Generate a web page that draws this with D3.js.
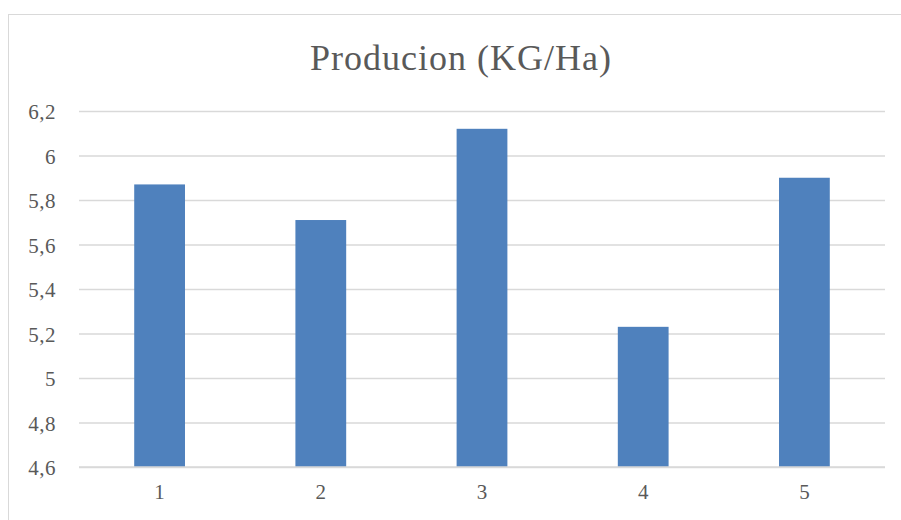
<!DOCTYPE html>
<html>
<head>
<meta charset="utf-8">
<script src="https://cdn.jsdelivr.net/npm/d3@7"></script>
<style>
  html, body { margin: 0; padding: 0; background: #ffffff; }
  svg { display: block; }
</style>
</head>
<body>
<svg id="chart" width="901" height="520"></svg>
<script>
// Production per plot (KG/Ha)
const categories = ["1", "2", "3", "4", "5"];
const values = [5.87, 5.71, 6.12, 5.23, 5.90];
const yTicks = [4.6, 4.8, 5.0, 5.2, 5.4, 5.6, 5.8, 6.0, 6.2];
const titleText = "Producion (KG/Ha)";

const svg = d3.select("#chart");
const plot = { left: 79, right: 885, top: 111, bottom: 467 };
const fontFamily = "'Liberation Serif', 'DejaVu Serif', serif";
const textColor = "#595959";
const gridColor = "#d9d9d9";

// chart frame (extends past the window on the right and bottom)
svg.append("rect")
  .attr("x", 8.5).attr("y", 14.5)
  .attr("width", 940).attr("height", 560)
  .attr("fill", "#ffffff")
  .attr("stroke", gridColor).attr("stroke-width", 1);

const x = d3.scaleBand()
  .domain(categories)
  .range([plot.left, plot.right])
  .paddingInner(0.685)
  .paddingOuter(0.3425);

const y = d3.scaleLinear()
  .domain([4.6, 6.2])
  .range([plot.bottom, plot.top]);

const fmt = v => d3.format(".1f")(v).replace(/\.0$/, "").replace(".", ",");

// horizontal gridlines + y labels
const yAxis = d3.axisLeft(y)
  .tickValues(yTicks)
  .tickSize(-(plot.right - plot.left))
  .tickPadding(23)
  .tickFormat(fmt);

const gy = svg.append("g")
  .attr("transform", `translate(${plot.left},0)`)
  .call(yAxis);
gy.select(".domain").remove();
gy.selectAll(".tick line")
  .attr("stroke", gridColor).attr("stroke-width", 1.5);
gy.selectAll(".tick text")
  .attr("fill", textColor)
  .attr("font-family", fontFamily)
  .attr("font-size", 21)
  .attr("letter-spacing", 0.5)
  .attr("dy", "0.36em");

// bars
svg.append("g")
  .selectAll("rect")
  .data(values)
  .join("rect")
  .attr("x", (d, i) => x(categories[i]))
  .attr("width", x.bandwidth())
  .attr("y", d => y(d))
  .attr("height", d => y(4.6) - y(d))
  .attr("fill", "#4f81bd");

// x axis labels
const xAxis = d3.axisBottom(x).tickSize(0).tickPadding(24);
const gx = svg.append("g")
  .attr("transform", `translate(0,${plot.bottom})`)
  .call(xAxis);
gx.select(".domain").remove();
gx.selectAll(".tick text")
  .attr("fill", textColor)
  .attr("font-family", fontFamily)
  .attr("font-size", 21)
  .attr("dy", "0.36em");

// baseline gridline drawn over the bar bottoms
svg.append("line")
  .attr("x1", plot.left).attr("x2", plot.right)
  .attr("y1", y(4.6)).attr("y2", y(4.6))
  .attr("stroke", gridColor).attr("stroke-width", 1.5);

// title
svg.append("text")
  .attr("x", 461).attr("y", 70)
  .attr("text-anchor", "middle")
  .attr("fill", textColor)
  .attr("font-family", fontFamily)
  .attr("font-size", 36)
  .attr("letter-spacing", 1)
  .text(titleText);
</script>
</body>
</html>
